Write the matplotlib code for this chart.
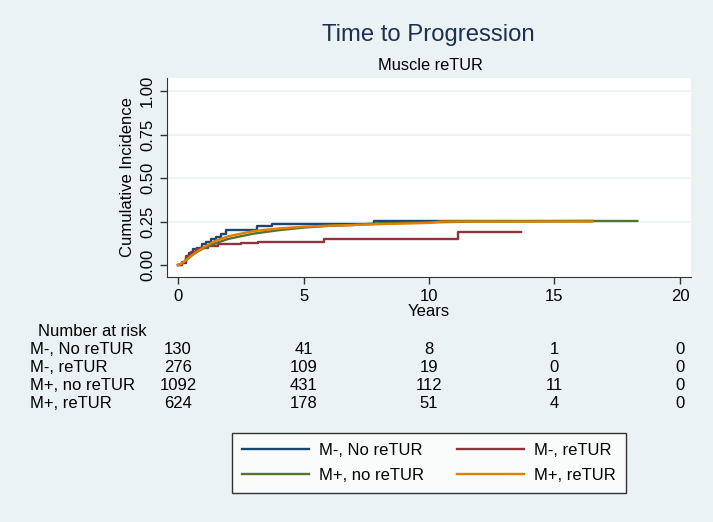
import matplotlib
matplotlib.use("Agg")
import matplotlib.pyplot as plt
import matplotlib.transforms as mtransforms

plt.rcParams['font.family'] = ['Liberation Sans', 'DejaVu Sans']

# cumulative incidence curves (years, incidence)
t_mneg_noretur = [0, 0.15, 0.3, 0.45, 0.6, 0.75, 0.95, 1.1, 1.3, 1.5, 1.7, 1.9, 3.15, 3.75, 7.8, 16.5]
y_mneg_noretur = [0, 0.01, 0.04, 0.07, 0.09, 0.10, 0.12, 0.13, 0.15, 0.16, 0.18, 0.20, 0.223, 0.235, 0.255, 0.255]

t_mneg_retur = [0, 0.15, 0.3, 0.5, 0.7, 0.9, 1.2, 1.6, 2.5, 3.2, 4.5, 5.8, 11.15, 13.65]
y_mneg_retur = [0, 0.02, 0.05, 0.075, 0.09, 0.10, 0.11, 0.12, 0.125, 0.13, 0.135, 0.148, 0.19, 0.19]

t_mpos_noretur = [0, 0.1, 0.25, 0.5, 0.75, 1, 1.5, 2, 2.5, 3, 3.5, 4, 5, 6, 7, 8, 10, 12, 16.5, 18.3]
y_mpos_noretur = [0, 0.005, 0.02, 0.05, 0.075, 0.095, 0.125, 0.15, 0.165, 0.18, 0.19, 0.2, 0.215, 0.225, 0.23, 0.24, 0.245, 0.25, 0.253, 0.253]

t_mpos_retur = [0, 0.1, 0.25, 0.5, 0.75, 1, 1.5, 2, 2.5, 3, 4, 5, 6, 7, 8, 9, 10, 10.5, 16.5]
y_mpos_retur = [0, 0.005, 0.02, 0.05, 0.075, 0.10, 0.14, 0.165, 0.18, 0.195, 0.21, 0.22, 0.226, 0.23, 0.235, 0.238, 0.242, 0.25, 0.25]

groups = ["M-, No reTUR", "M-, reTUR", "M+, no reTUR", "M+, reTUR"]
colors = ["#1a476f", "#90353b", "#55752f", "#e37e00"]
# large groups have many small steps -> drawn as smooth lines
stepped = [True, True, False, False]

# number at risk table
risk_times = [0, 5, 10, 15, 20]
risk_mneg_noretur = [130, 41, 8, 1, 0]
risk_mneg_retur = [276, 109, 19, 0, 0]
risk_mpos_noretur = [1092, 431, 112, 11, 0]
risk_mpos_retur = [624, 178, 51, 4, 0]

curves = [(t_mneg_noretur, y_mneg_noretur), (t_mneg_retur, y_mneg_retur),
          (t_mpos_noretur, y_mpos_noretur), (t_mpos_retur, y_mpos_retur)]
risk_rows = [risk_mneg_noretur, risk_mneg_retur, risk_mpos_noretur, risk_mpos_retur]

bg = "#eaf2f4"
W, H = 713, 522
fig = plt.figure(figsize=(W / 100, H / 100), dpi=100, facecolor=bg)
ax = fig.add_axes([167 / W, 1 - 277 / H, (691 - 167) / W, (277 - 78) / H])
ax.set_facecolor("white")

handles = []
for (t, y), c, lab, st in zip(curves, colors, groups, stepped):
    if st:
        h, = ax.step(t, y, where="post", color=c, lw=1.7, label=lab)
    else:
        h, = ax.plot(t, y, color=c, lw=1.7, label=lab)
    handles.append(h)

ax.set_xlim(-0.44, 20.44)
ax.set_ylim(-0.069, 1.075)
ax.set_xticks(risk_times)
ax.set_yticks([0, 0.25, 0.5, 0.75, 1.0])
ax.set_yticklabels(["0.00", "0.25", "0.50", "0.75", "1.00"], rotation=90, va="center")
ax.tick_params(labelsize=12, length=5, width=1, color="#333333", labelcolor="black")
for yv in [0.25, 0.5, 0.75, 1.0]:
    ax.axhline(yv, color="#eaf2f3", lw=1.2, zorder=0)
for s in ["top", "right"]:
    ax.spines[s].set_visible(False)
for s in ["left", "bottom"]:
    ax.spines[s].set_color("#333333")
ax.set_xlabel("Years", fontsize=12, labelpad=0)
ax.set_ylabel("Cumulative Incidence", fontsize=12, labelpad=4)

fig.text(428 / W, 1 - 35 / H, "Time to Progression", fontsize=17.2, color="#1e3050",
         ha="center", va="center")
fig.text(430 / W, 1 - 66 / H, "Muscle reTUR", fontsize=11.8, ha="center", va="center")

# number at risk
trans = mtransforms.blended_transform_factory(ax.transData, fig.transFigure)
fig.text(38 / W, 1 - 331 / H, "Number at risk", fontsize=12, va="center")
row_y = [350, 368, 386, 404]
for lab, row, yp in zip(groups, risk_rows, row_y):
    fig.text(30 / W, 1 - yp / H, lab, fontsize=12, va="center")
    for tx, n in zip(risk_times, row):
        ax.text(tx, 1 - yp / H, str(n), transform=trans, fontsize=12,
                ha="center", va="center", clip_on=False)

# legend filled row by row
order = [0, 2, 1, 3]
leg = fig.legend([handles[i] for i in order], [groups[i] for i in order],
                 loc="center", bbox_to_anchor=(429 / W, 1 - 463 / H), ncol=2,
                 fontsize=12, frameon=True, fancybox=False, handlelength=4,
                 columnspacing=2.0, borderpad=0.6, labelspacing=0.6,
                 handletextpad=0.6)
leg.get_frame().set_edgecolor("black")
leg.get_frame().set_linewidth(1)
for h in leg.get_lines():
    h.set_linewidth(1.7)

fig.savefig("out.png", dpi=100, facecolor=bg)
